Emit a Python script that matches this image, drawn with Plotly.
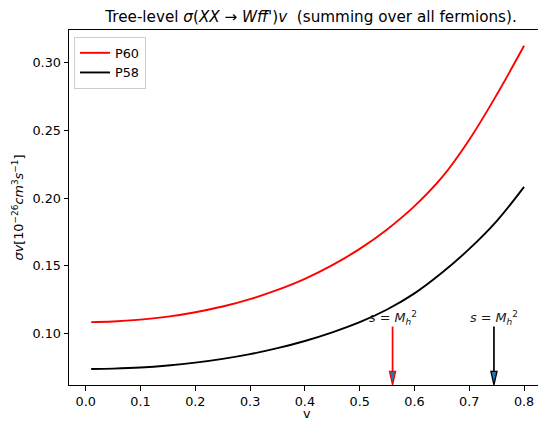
import plotly.graph_objects as go

# ---- data ----
v = [0.01, 0.05, 0.10, 0.15, 0.20, 0.25, 0.30, 0.35, 0.40, 0.45,
     0.50, 0.55, 0.60, 0.65, 0.70, 0.75, 0.80]
p60 = [0.1083, 0.1087, 0.1101, 0.1123, 0.1156, 0.1198, 0.1253, 0.1321, 0.1403,
       0.1504, 0.1624, 0.1768, 0.1940, 0.2152, 0.2431, 0.2763, 0.3125]
p58 = [0.0736, 0.0739, 0.0747, 0.0762, 0.0783, 0.0811, 0.0846, 0.0890, 0.0943,
       0.1007, 0.1082, 0.1176, 0.1295, 0.1447, 0.1624, 0.1830, 0.2083]

arrow_x = [0.56, 0.745]          # s = M_h^2 positions for P60, P58
arrow_colors = ["red", "black"]
arrow_top = 0.105
arrow_label = "<i>s</i> = <i>M</i><sub><i>h</i></sub><sup>2</sup>"

xticks = [0.0, 0.1, 0.2, 0.3, 0.4, 0.5, 0.6, 0.7, 0.8]
yticks = [0.10, 0.15, 0.20, 0.25, 0.30]

xrange_ = [-0.0305, 0.8254]
yrange_ = [0.0618, 0.3242]

FONT = "DejaVu Sans"
FS = 12.8

fig = go.Figure()
fig.add_trace(go.Scatter(x=v, y=p60, mode="lines", name="P60",
                         line=dict(color="red", width=1.9, shape="spline")))
fig.add_trace(go.Scatter(x=v, y=p58, mode="lines", name="P58",
                         line=dict(color="black", width=1.9, shape="spline")))

shapes = []
annotations = []
head_h = 0.0101   # arrow head height (data units)
head_hw = 0.0056  # arrow head half width (data units)
ybot = yrange_[0]
for ax_, col in zip(arrow_x, arrow_colors):
    shapes.append(dict(type="line", xref="x", yref="y", x0=ax_, x1=ax_,
                       y0=arrow_top, y1=ybot + head_h,
                       line=dict(color=col, width=1.7)))
    path = (f"M {ax_-head_hw},{ybot+head_h} L {ax_+head_hw},{ybot+head_h} "
            f"L {ax_},{ybot} Z")
    shapes.append(dict(type="path", xref="x", yref="y", path=path,
                       fillcolor="#1f77b4", line=dict(color=col, width=1.3)))
    annotations.append(dict(x=ax_, y=arrow_top, xref="x", yref="y",
                            text=arrow_label, showarrow=False,
                            xanchor="center", yanchor="bottom", yshift=-2,
                            font=dict(family=FONT, size=FS, color="#1a1a1a")))

# x-axis title as an annotation (placed below tick labels)
annotations.append(dict(x=(307-69)/469, y=-(404.5-385)/355, xref="paper", yref="paper",
                        text="v", showarrow=False, xanchor="center", yanchor="top",
                        borderpad=0,
                        font=dict(family=FONT, size=FS, color="black")))

fig.update_layout(
    width=538, height=421,
    margin=dict(l=69, r=0, t=30, b=36, autoexpand=False),
    paper_bgcolor="white", plot_bgcolor="white",
    font=dict(family=FONT, size=FS, color="black"),
    title=dict(text="Tree-level <i>σ</i>(<i>XX</i> → <i>Wff̄'</i>)<i>v</i>  (summing over all fermions).",
               x=311/538, xref="container", xanchor="center",
               y=1-17/421, yref="container", yanchor="middle",
               font=dict(family=FONT, size=15.2, color="black")),
    showlegend=True,
    legend=dict(x=(74-69)/469, y=1-(37-30)/355, xanchor="left", yanchor="top",
                bgcolor="rgba(255,255,255,0.8)", bordercolor="#cccccc",
                borderwidth=1, font=dict(family=FONT, size=FS, color="black"),
                tracegroupgap=0, itemwidth=30),
    shapes=shapes,
    annotations=annotations,
)

fig.update_xaxes(range=xrange_, tickvals=xticks, tickformat=".1f",
                 showgrid=False, zeroline=False, automargin=False,
                 showline=True, linecolor="black", linewidth=1, mirror=True,
                 ticks="outside", ticklen=4.5, tickcolor="black", tickwidth=1,
                 tickfont=dict(family=FONT, size=FS, color="black"))
fig.update_yaxes(range=yrange_, tickvals=yticks, tickformat=".2f",
                 showgrid=False, zeroline=False, automargin=False,
                 showline=True, linecolor="black", linewidth=1,
                 ticks="outside", ticklen=4.5, tickcolor="black", tickwidth=1,
                 tickfont=dict(family=FONT, size=FS, color="black"),
                 title=dict(text="<i>σv</i>[10<sup>−26</sup><i>cm</i><sup>3</sup><i>s</i><sup>−1</sup>]",
                            standoff=5,
                            font=dict(family=FONT, size=FS, color="black")))

fig.write_html("out.html", config={"displayModeBar": False},
               post_script="document.body.style.margin='0';document.body.style.overflow='hidden';")
